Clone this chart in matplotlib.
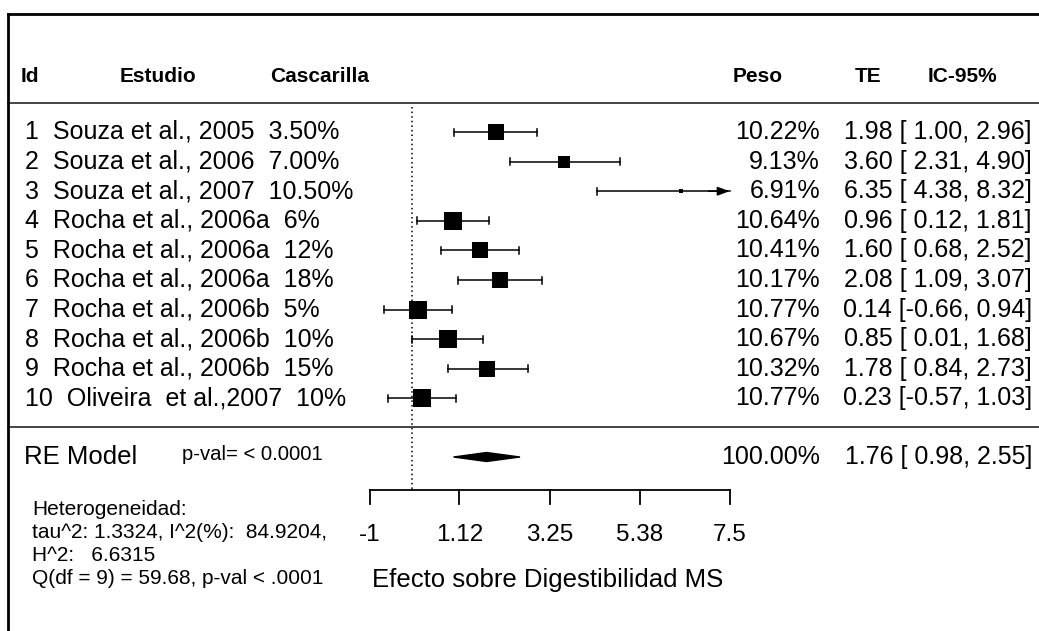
import matplotlib.pyplot as plt
from matplotlib.patches import Polygon

plt.rcParams['font.family'] = ['Liberation Sans', 'DejaVu Sans']

# Datos del forest plot
ids = [1, 2, 3, 4, 5, 6, 7, 8, 9, 10]
estudios = ["Souza et al., 2005", "Souza et al., 2006", "Souza et al., 2007",
            "Rocha et al., 2006a", "Rocha et al., 2006a", "Rocha et al., 2006a",
            "Rocha et al., 2006b", "Rocha et al., 2006b", "Rocha et al., 2006b",
            "Oliveira  et al.,2007"]
cascarilla = ["3.50%", "7.00%", "10.50%", "6%", "12%", "18%", "5%", "10%", "15%", "10%"]
pesos = [10.22, 9.13, 6.91, 10.64, 10.41, 10.17, 10.77, 10.67, 10.32, 10.77]
te = [1.98, 3.60, 6.35, 0.96, 1.60, 2.08, 0.14, 0.85, 1.78, 0.23]
ci_lo = [1.00, 2.31, 4.38, 0.12, 0.68, 1.09, -0.66, 0.01, 0.84, -0.57]
ci_hi = [2.96, 4.90, 8.32, 1.81, 2.52, 3.07, 0.94, 1.68, 2.73, 1.03]

re_peso = 100.00
re_te, re_lo, re_hi = 1.76, 0.98, 2.55
re_pval = "p-val= < 0.0001"

x_ticks = [-1, 1.12, 3.25, 5.38, 7.5]
x_ticklabels = ["-1", "1.12", "3.25", "5.38", "7.5"]
xlabel = "Efecto sobre Digestibilidad MS"

het_lines = ["Heterogeneidad:",
             "tau^2: 1.3324, I^2(%):  84.9204,",
             "H^2:   6.6315",
             "Q(df = 9) = 59.68, p-val < .0001"]

# Layout (pixels)
W, H = 1039, 631
x0_px, scale = 412, 42.35       # pixel of effect 0, pixels per unit
row_top, row_step = 132, 29.6


def X(px):
    return (px - x0_px) / scale


fig = plt.figure(figsize=(W / 100, H / 100), dpi=100)
ax = fig.add_axes([0, 0, 1, 1])
ax.set_xlim(X(0), X(W))
ax.set_ylim(H, 0)
ax.axis('off')

xmax = x_ticks[-1]
wmin, wmax = min(pesos), max(pesos)
fs = 18

for i in range(len(te)):
    y = row_top + i * row_step
    lo, hi = ci_lo[i], ci_hi[i]
    hi_draw = min(hi, xmax)
    ax.plot([lo, hi_draw], [y, y], color='k', lw=1.1)
    ax.plot([lo, lo], [y - 3.5, y + 3.5], color='k', lw=1.1)
    if hi > xmax:
        ax.annotate('', xy=(xmax, y), xytext=(xmax - 0.5, y),
                    arrowprops=dict(arrowstyle='-|>,head_length=0.6,head_width=0.22',
                                    color='k', lw=1.1, mutation_scale=12,
                                    shrinkA=0, shrinkB=0))
    else:
        ax.plot([hi, hi], [y - 3.5, y + 3.5], color='k', lw=1.1)
    side = 4 + (pesos[i] - wmin) / (wmax - wmin) * 13.7
    ax.plot(te[i], y, marker='s', ms=side * 0.72, color='k', mec='k', mew=0)

    ax.text(X(25), y, f"{ids[i]}  {estudios[i]}  {cascarilla[i]}",
            ha='left', va='center', fontsize=fs)
    ax.text(X(820), y, f"{pesos[i]:.2f}%", ha='right', va='center', fontsize=fs)
    ax.text(X(1032), y, f"{te[i]:.2f} [{lo:5.2f}, {hi:.2f}]",
            ha='right', va='center', fontsize=fs)

# RE model
y_re = 457
ax.add_patch(Polygon([(re_lo, y_re), (re_te, y_re - 4.5), (re_hi, y_re), (re_te, y_re + 4.5)],
                     closed=True, color='k'))
ax.text(X(24), y_re, "RE Model", ha='left', va='center', fontsize=18.5)
ax.text(X(182), y_re - 2, re_pval, ha='left', va='center', fontsize=14.6)
ax.text(X(820), y_re, f"{re_peso:.2f}%", ha='right', va='center', fontsize=fs)
ax.text(X(1032), y_re, f"{re_te:.2f} [{re_lo:5.2f}, {re_hi:.2f}]",
        ha='right', va='center', fontsize=fs)

# Reference line at 0
ax.plot([0, 0], [107, 490], color='k', lw=1.1, ls=(0, (1, 2)))

# X axis
y_ax = 490
ax.plot([x_ticks[0], x_ticks[-1]], [y_ax, y_ax], color='k', lw=1.3)
for t, lab in zip(x_ticks, x_ticklabels):
    ax.plot([t, t], [y_ax, y_ax + 14], color='k', lw=1.3)
    ax.text(t, 535, lab, ha='center', va='center', fontsize=17.5)
ax.text((x_ticks[0] + x_ticks[-1]) / 2 - 0.05, 580, xlabel, ha='center', va='center', fontsize=18.5)

# Headers
for px, lab in [(21, "Id"), (120, "Estudio"), (270, "Cascarilla"),
                (733, "Peso"), (855, "TE"), (928, "IC-95%")]:
    ax.text(X(px), 77, lab, ha='left', va='center', fontsize=15, fontweight='bold')

# Separators and border
ax.plot([X(8), X(W)], [103, 103], color='#444444', lw=1.4)
ax.plot([X(8), X(W)], [427, 427], color='#444444', lw=1.4)
ax.plot([X(8), X(W)], [14, 14], color='k', lw=2)
ax.plot([X(8), X(8)], [14, H], color='k', lw=2)

# Heterogeneity
ax.text(X(32), 544, "\n".join(het_lines), ha='left', va='center',
        fontsize=15, linespacing=1.27)

fig.savefig("out.png", dpi=100)
